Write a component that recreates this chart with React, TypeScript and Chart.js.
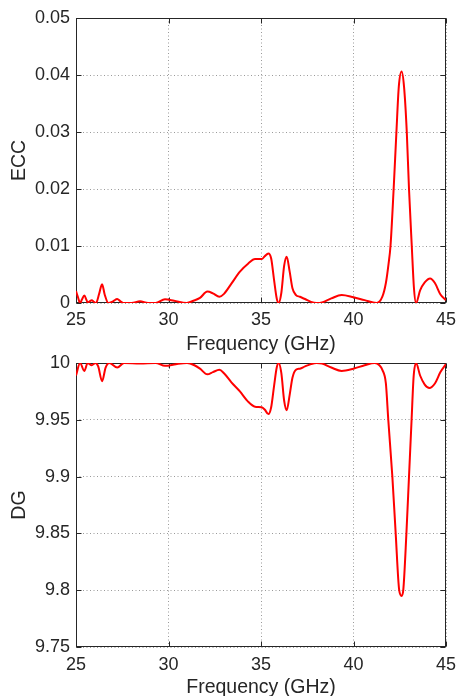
import React, { useEffect, useRef } from 'react';
import { Chart, registerables } from 'chart.js';

Chart.register(...registerables);

// ---------- data ----------
const eccFreq = [
  25.0, 25.1, 25.22, 25.32, 25.45, 25.56, 25.63, 25.74, 25.85, 25.97, 26.08, 26.25, 26.41, 26.55,
  26.75, 27.0, 27.23, 27.4, 27.56, 28.0, 28.46, 28.9, 29.3, 29.81, 30.3, 30.98, 31.35, 31.7,
  32.1, 32.4, 32.75, 33.0, 33.4, 33.86, 34.3, 34.68, 35.04, 35.2, 35.4, 35.55, 35.7, 35.85,
  35.95, 36.1, 36.25, 36.39, 36.55, 36.7, 36.89, 37.1, 37.38, 37.7, 38.0, 38.3, 38.8, 39.36,
  40.0, 40.6, 41.25, 41.56, 41.75, 41.9, 42.0, 42.17, 42.32, 42.45, 42.6, 42.73, 42.88, 43.0,
  43.15, 43.27, 43.38, 43.6, 43.85, 44.14, 44.4, 44.7, 45.0,
];
const eccValues = [
  0.0021, 0.0011, 0.0, 0.0006, 0.0013, 0.0006, 0.0001, 0.0003, 0.0005, 0.0002, 0.0, 0.0016, 0.0033, 0.0015,
  0.0, 0.0003, 0.0007, 0.0003, 0.0, 0.0, 0.0003, 0.0, 0.0, 0.00065, 0.0004, 0.0, 0.0004, 0.0009,
  0.002, 0.0017, 0.0011, 0.0016, 0.0034, 0.0055, 0.0069, 0.0077, 0.0077, 0.0082, 0.0087, 0.0078, 0.0042, 0.0008,
  0.0, 0.0018, 0.0065, 0.0081, 0.0055, 0.0026, 0.0014, 0.0011, 0.0007, 0.0002, 0.0, 0.0001, 0.0008, 0.0014,
  0.001, 0.0005, 0.0, 0.0011, 0.0035, 0.007, 0.01, 0.02, 0.03, 0.038, 0.0406, 0.038, 0.03, 0.02,
  0.01, 0.0025, 0.0, 0.0022, 0.0036, 0.0043, 0.0035, 0.0015, 0.0005,
];

const dgFreq = [
  25.0, 25.22, 25.45, 25.63, 25.85, 26.05, 26.2, 26.41, 26.6, 26.8, 27.23, 27.6, 28.46, 29.3,
  29.81, 30.4, 31.0, 31.4, 31.7, 32.1, 32.4, 32.75, 33.0, 33.4, 33.86, 34.3, 34.68, 35.04,
  35.2, 35.4, 35.55, 35.7, 35.85, 35.95, 36.1, 36.25, 36.39, 36.55, 36.7, 36.89, 37.1, 37.38,
  37.7, 38.0, 38.3, 38.8, 39.36, 40.0, 40.6, 41.15, 41.4, 41.56, 41.75, 41.88, 42.1, 42.28,
  42.47, 42.6, 42.69, 42.86, 43.0, 43.14, 43.25, 43.38, 43.6, 43.85, 44.1, 44.4, 44.7, 45.0,
];
const dgValues = [
  9.989, 10.0, 9.993, 10.0, 9.998, 10.0, 9.997, 9.984, 9.996, 10.0, 9.996, 10.0, 9.9995, 10.0,
  9.9975, 9.999, 10.0, 9.998, 9.995, 9.99, 9.992, 9.994, 9.991, 9.983, 9.975, 9.966, 9.9615, 9.961,
  9.959, 9.955, 9.961, 9.979, 9.996, 10.0, 9.991, 9.967, 9.9585, 9.972, 9.987, 9.994, 9.995, 9.997,
  9.999, 10.0, 9.9995, 9.996, 9.993, 9.995, 9.998, 10.0, 9.998, 9.994, 9.982, 9.95, 9.9, 9.85,
  9.8, 9.795, 9.8, 9.85, 9.9, 9.95, 9.988, 10.0, 9.989, 9.981, 9.978, 9.982, 9.992, 9.999,
];

const freqTicks = [25, 30, 35, 40, 45];
const freqTickLabels = ['25', '30', '35', '40', '45'];
const eccTicks = [0, 0.01, 0.02, 0.03, 0.04, 0.05];
const eccTickLabels = ['0', '0.01', '0.02', '0.03', '0.04', '0.05'];
const dgTicks = [9.75, 9.8, 9.85, 9.9, 9.95, 10];
const dgTickLabels = ['9.75', '9.8', '9.85', '9.9', '9.95', '10'];

const xTitle = 'Frequency (GHz)';
const eccTitle = 'ECC';
const dgTitle = 'DG';

// ---------- styling ----------
const FONT = '"Liberation Sans", Arial, sans-serif';
const TEXT = '#262626';
const CANVAS_W = 458;
const CANVAS_H = 356;

const framePlugin = {
  id: 'frame',
  beforeDatasetsDraw(chart: any) {
    const { ctx, chartArea: a, scales } = chart;
    ctx.save();
    ctx.strokeStyle = TEXT;
    ctx.lineWidth = 1;
    const L = Math.round(a.left) + 0.5;
    const R = Math.round(a.right) - 0.5;
    const T = Math.round(a.top) + 0.5;
    const B = Math.round(a.bottom) - 0.5;
    ctx.strokeRect(L, T, R - L, B - T);
    const len = 5;
    ctx.beginPath();
    for (const v of scales.x.ticks.map((t: any) => t.value)) {
      const px = Math.round(scales.x.getPixelForValue(v)) + 0.5;
      ctx.moveTo(px, B);
      ctx.lineTo(px, B - len);
      ctx.moveTo(px, T);
      ctx.lineTo(px, T + len);
    }
    for (const v of scales.y.ticks.map((t: any) => t.value)) {
      const py = Math.round(scales.y.getPixelForValue(v)) + 0.5;
      ctx.moveTo(L, py);
      ctx.lineTo(L + len, py);
      ctx.moveTo(R, py);
      ctx.lineTo(R - len, py);
    }
    ctx.stroke();
    ctx.restore();
  },
};

function makeConfig(opts: {
  freq: number[];
  values: number[];
  yTicks: number[];
  yLabels: string[];
  yTitle: string;
  padTop: number;
  xHeight: number;
  xTitlePadBottom: number;
  xTickPad: number;
}): any {
  const data = opts.freq.map((f, i) => ({ x: f, y: opts.values[i] }));
  return {
    type: 'line',
    data: {
      datasets: [
        {
          data,
          borderColor: '#ff0000',
          borderWidth: 2,
          pointRadius: 0,
          fill: false,
          cubicInterpolationMode: 'monotone',
        },
      ],
    },
    options: {
      animation: false,
      responsive: false,
      maintainAspectRatio: false,
      events: [],
      layout: { padding: { top: opts.padTop, right: 12, left: 0, bottom: 0 } },
      plugins: { legend: { display: false }, tooltip: { enabled: false }, title: { display: false } },
      scales: {
        x: {
          type: 'linear',
          min: freqTicks[0],
          max: freqTicks[freqTicks.length - 1],
          afterBuildTicks: (s: any) => {
            s.ticks = freqTicks.map((v) => ({ value: v }));
          },
          afterFit: (s: any) => {
            s.height = opts.xHeight;
            s.paddingLeft = 0;
            s.paddingRight = 0;
          },
          ticks: {
            autoSkip: false,
            maxRotation: 0,
            padding: opts.xTickPad,
            color: TEXT,
            font: { family: FONT, size: 18 },
            callback: (_v: any, i: number) => freqTickLabels[i],
          },
          grid: { color: '#9a9a9a', lineWidth: 1, drawTicks: false },
          border: { display: false, dash: [1, 2.5] },
          title: {
            display: true,
            text: xTitle,
            color: TEXT,
            font: { family: FONT, size: 19.5, lineHeight: 1.0 },
            padding: { top: 0, bottom: opts.xTitlePadBottom },
          },
        },
        y: {
          type: 'linear',
          min: opts.yTicks[0],
          max: opts.yTicks[opts.yTicks.length - 1],
          afterBuildTicks: (s: any) => {
            s.ticks = opts.yTicks.map((v) => ({ value: v }));
          },
          afterFit: (s: any) => {
            s.width = 76;
            s.paddingTop = 0;
            s.paddingBottom = 0;
          },
          ticks: {
            autoSkip: false,
            padding: 6,
            color: TEXT,
            font: { family: FONT, size: 18 },
            callback: (_v: any, i: number) => opts.yLabels[i],
          },
          grid: { color: '#9a9a9a', lineWidth: 1, drawTicks: false },
          border: { display: false, dash: [1, 2.5] },
          title: {
            display: true,
            text: opts.yTitle,
            color: TEXT,
            font: { family: FONT, size: 19.5, lineHeight: 1.0 },
            padding: { top: 9.5, bottom: 0 },
          },
        },
      },
    },
    plugins: [framePlugin],
  };
}

export default function App() {
  const topRef = useRef<HTMLCanvasElement>(null);
  const botRef = useRef<HTMLCanvasElement>(null);

  useEffect(() => {
    const c1 = new Chart(
      topRef.current as HTMLCanvasElement,
      makeConfig({
        freq: eccFreq,
        values: eccValues,
        yTicks: eccTicks,
        yLabels: eccTickLabels,
        yTitle: eccTitle,
        padTop: 18,
        xHeight: CANVAS_H - 303,
        xTitlePadBottom: 1.75,
        xTickPad: 6.5,
      })
    );
    const c2 = new Chart(
      botRef.current as HTMLCanvasElement,
      makeConfig({
        freq: dgFreq,
        values: dgValues,
        yTicks: dgTicks,
        yLabels: dgTickLabels,
        yTitle: dgTitle,
        padTop: 23,
        xHeight: CANVAS_H - (647 - 340),
        xTitlePadBottom: -1.5,
        xTickPad: 7.5,
      })
    );
    return () => {
      c1.destroy();
      c2.destroy();
    };
  }, []);

  return (
    <div style={{ position: 'absolute', left: 0, top: 0, width: CANVAS_W, height: 696, background: '#ffffff', overflow: 'hidden' }}>
      <canvas
        ref={topRef}
        width={CANVAS_W}
        height={CANVAS_H}
        style={{ position: 'absolute', left: 0, top: 0, width: CANVAS_W, height: CANVAS_H }}
      />
      <canvas
        ref={botRef}
        width={CANVAS_W}
        height={CANVAS_H}
        style={{ position: 'absolute', left: 0, top: 340, width: CANVAS_W, height: CANVAS_H }}
      />
    </div>
  );
}
